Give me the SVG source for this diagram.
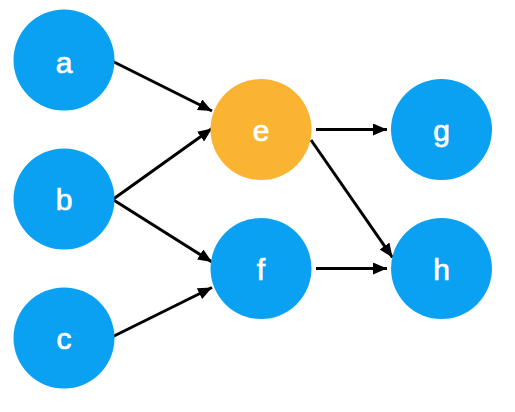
<svg xmlns="http://www.w3.org/2000/svg" width="515" height="412" viewBox="0 0 515 412">
<style>
.blue{fill:#0aa1f2}
.orange{fill:#fbb432}
.lbl{fill:#fff;font-family:"Liberation Sans",Arial,sans-serif;font-size:30px;text-anchor:middle;stroke:#fff;stroke-width:0.7}
.edge{stroke:#000;stroke-width:3;fill:none;marker-end:url(#arr)}
</style>
<defs>
<marker id="arr" viewBox="0 0 14 12" refX="14" refY="6" markerWidth="14" markerHeight="12" markerUnits="userSpaceOnUse" orient="auto">
<path d="M0,0 L14,6 L0,12 Z" fill="#000"/>
</marker>
</defs>
<rect width="515" height="412" fill="#fff"/>
<g id="connectors">
<line class="edge" x1="112" y1="61" x2="212" y2="111"/>
<line class="edge" x1="112" y1="200" x2="212" y2="128.5"/>
<line class="edge" x1="112" y1="199" x2="212" y2="262"/>
<line class="edge" x1="112" y1="337" x2="212" y2="287.5"/>
<line class="edge" x1="316" y1="129.5" x2="387" y2="129.5"/>
<line class="edge" x1="311" y1="140" x2="392.5" y2="257.5"/>
<line class="edge" x1="316" y1="268.5" x2="387" y2="268.5"/>
</g>
<g id="a"><circle class="blue" cx="64" cy="60" r="50.5"/><text class="lbl" x="64" y="73">a</text></g>
<g id="b"><circle class="blue" cx="64" cy="199" r="50.5"/><text class="lbl" x="64" y="210">b</text></g>
<g id="c"><circle class="blue" cx="64" cy="338" r="50.5"/><text class="lbl" x="64" y="349">c</text></g>
<g id="e"><circle class="orange" cx="261" cy="129.5" r="50.5"/><text class="lbl" x="261" y="140.5">e</text></g>
<g id="f"><circle class="blue" cx="261" cy="268.5" r="50.5"/><text class="lbl" x="261" y="279.5">f</text></g>
<g id="g"><circle class="blue" cx="441.5" cy="129.5" r="50.5"/><text class="lbl" x="441.5" y="140.5">g</text></g>
<g id="h"><circle class="blue" cx="441.5" cy="268.5" r="50.5"/><text class="lbl" x="441.5" y="279.5">h</text></g>
</svg>
